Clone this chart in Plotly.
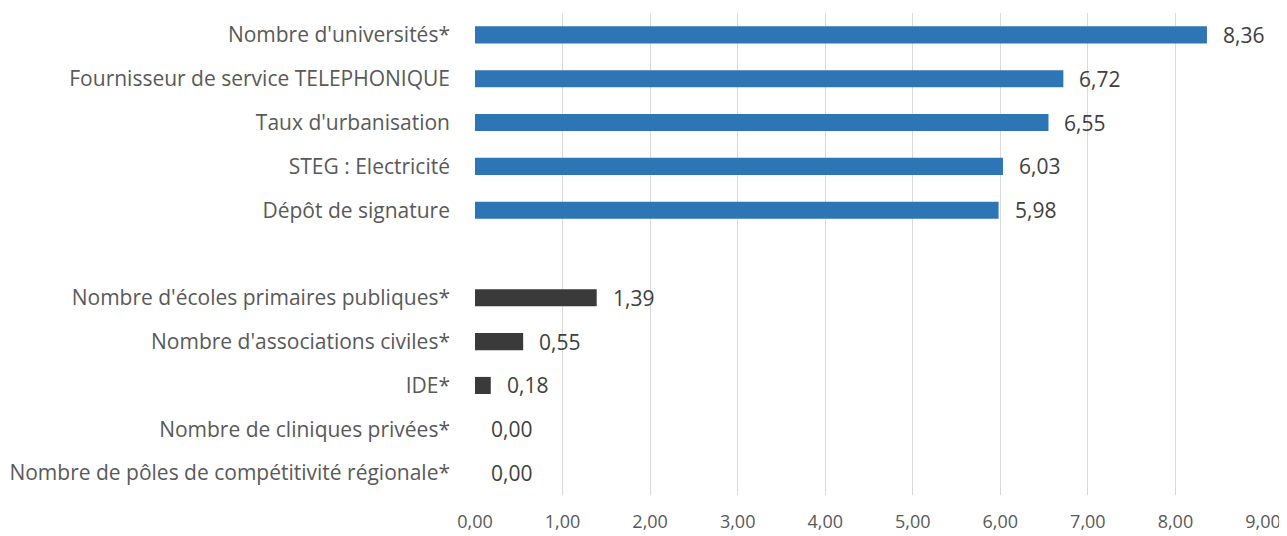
import plotly.graph_objects as go

CATEGORIES = [
    "Nombre d'universités*",
    "Fournisseur de service TELEPHONIQUE",
    "Taux d'urbanisation",
    "STEG : Electricité",
    "Dépôt de signature",
    " ",
    "Nombre d'écoles primaires publiques*",
    "Nombre d'associations civiles*",
    "IDE*",
    "Nombre de cliniques privées*",
    "Nombre de pôles de compétitivité régionale*",
]
VALUES = [8.36, 6.72, 6.55, 6.03, 5.98, None, 1.39, 0.55, 0.18, 0.00, 0.00]
GROUP = ["top", "top", "top", "top", "top", None, "low", "low", "low", "low", "low"]
TICKS = [0, 1, 2, 3, 4, 5, 6, 7, 8, 9]

COLOR_TOP = "#2E75B6"
COLOR_LOW = "#3A3A3A"
FONT = "Open Sans"

colors = [COLOR_TOP if g == "top" else COLOR_LOW for g in GROUP]

fig = go.Figure()
fig.add_trace(go.Bar(
    y=CATEGORIES, x=VALUES, orientation="h",
    marker=dict(color=colors, line=dict(width=0)),
    hoverinfo="skip",
))

# étiquettes de données (format français)
for cat, v in zip(CATEGORIES, VALUES):
    if v is None:
        continue
    fig.add_annotation(
        x=v, y=cat, xref="x", yref="y",
        text=f"{v:.2f}".replace(".", ","),
        showarrow=False, xanchor="left", xshift=14,
        font=dict(family=FONT, size=21, color="#404040"),
    )

# la page ajoute 8px de marge (body) : figure réduite pour tenir dans la fenêtre
fig.update_layout(
    width=1279, height=528,
    margin=dict(l=467, r=24, t=5, b=41),
    plot_bgcolor="white", paper_bgcolor="white",
    separators=", ",
    bargap=0.61,
    showlegend=False,
    font=dict(family=FONT, size=21, color="#595959"),
)
fig.update_xaxes(
    range=[0, 9], tickvals=TICKS, tickformat=".2f",
    showgrid=True, gridcolor="#D9D9D9", gridwidth=1,
    zeroline=False, showline=False, ticks="",
    automargin=False, ticklabelstandoff=14,
    tickfont=dict(family=FONT, size=18, color="#595959"),
)
fig.update_yaxes(
    categoryorder="array", categoryarray=CATEGORIES, autorange="reversed",
    showgrid=False, zeroline=False, showline=False, ticks="",
    automargin=False, ticklabelstandoff=24,
    tickfont=dict(family=FONT, size=21, color="#595959"),
)

fig.write_html("out.html")
